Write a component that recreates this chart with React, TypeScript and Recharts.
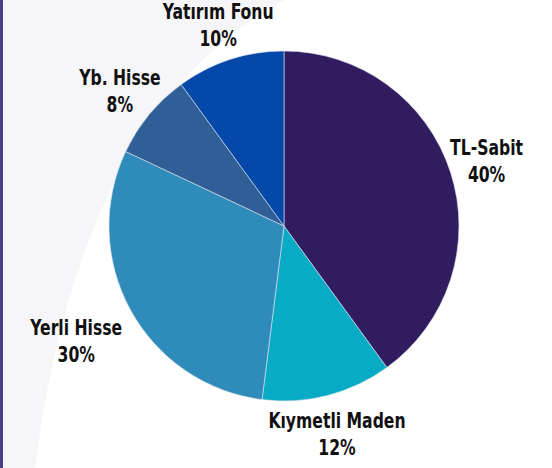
import { PieChart, Pie, Cell } from "recharts";

const KATEGORILER = ["TL-Sabit", "Kıymetli Maden", "Yerli Hisse", "Yb. Hisse", "Yatırım Fonu"];
const ORANLAR = [40, 12, 30, 8, 10];
const RENKLER = ["#311c5f", "#08abc5", "#2e8bba", "#2f5f96", "#0449aa"];

const data = KATEGORILER.map((ad, i) => ({ ad, oran: ORANLAR[i] }));

const RAD = Math.PI / 180;
const FONT = "'DejaVu Sans Condensed', 'DejaVu Sans', sans-serif";

// etiketler dilimin ortasından dışarıya; sol alttakiler biraz daha uzağa
const renderLabel = (props: any) => {
  const { cx, cy, midAngle, outerRadius, index } = props;
  const cos = Math.cos(-midAngle * RAD);
  const sin = Math.sin(-midAngle * RAD);
  const r = outerRadius + 38 + (cos < 0 && sin > 0 ? 50 * sin : 0);
  const x = cx + r * cos;
  const y = cy + r * sin;
  const item = data[index];
  return (
    <g transform={`translate(${x},${y}) scale(0.79,1)`}>
      <text
        x={0}
        y={0}
        textAnchor="middle"
        fill="#111"
        style={{ fontFamily: FONT, fontWeight: 700, fontSize: 22, fontStretch: "condensed" }}
      >
        <tspan x={0} y={-12} dominantBaseline="central">{item.ad}</tspan>
        <tspan x={0} y={15} dominantBaseline="central">{item.oran}%</tspan>
      </text>
    </g>
  );
};

export default function App() {
  return (
    <div
      style={{
        position: "absolute",
        left: 0,
        top: 0,
        width: 552,
        height: 468,
        background: "#ffffff",
        overflow: "hidden",
      }}
    >
      <svg width={552} height={468} style={{ position: "absolute", left: 0, top: 0 }}>
        <path d="M0,0 L285,0 Q80,110 35,468 L0,468 Z" fill="#f6f6f8" />
        <rect x={0} y={0} width={3} height={468} fill="#4b3c8c" />
      </svg>
      <div style={{ position: "absolute", left: 0, top: 0 }}>
        <PieChart width={552} height={468} margin={{ top: 0, right: 0, bottom: 0, left: 0 }}>
          <Pie
            data={data}
            dataKey="oran"
            nameKey="ad"
            cx={284}
            cy={226}
            outerRadius={175}
            startAngle={90}
            endAngle={-270}
            stroke="#dfe3ee"
            strokeWidth={0.6}
            label={renderLabel}
            labelLine={false}
            isAnimationActive={false}
          >
            {data.map((d, i) => (
              <Cell key={d.ad} fill={RENKLER[i]} />
            ))}
          </Pie>
        </PieChart>
      </div>
    </div>
  );
}
